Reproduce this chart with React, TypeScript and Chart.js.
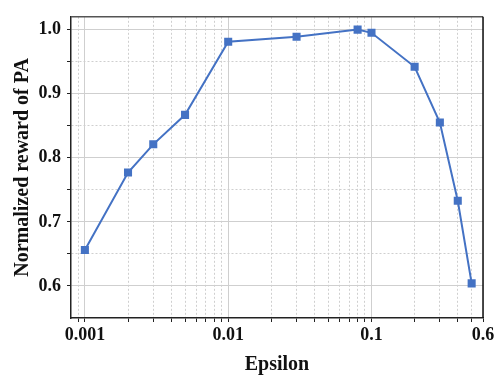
import React, { useEffect, useRef } from "react";
import { Chart, registerables } from "chart.js";

Chart.register(...registerables);

const epsilons = [0.001, 0.002, 0.003, 0.005, 0.01, 0.03, 0.08, 0.1, 0.2, 0.3, 0.4, 0.5];
const rewards = [0.656, 0.777, 0.821, 0.867, 0.981, 0.989, 1.0, 0.995, 0.942, 0.855, 0.733, 0.604];

const xMajorTicks = [0.001, 0.01, 0.1, 0.6];
const xMinorTicks = [0.0009, 0.002, 0.003, 0.004, 0.005, 0.006, 0.007, 0.008, 0.009, 0.02, 0.03, 0.04, 0.05, 0.06, 0.07, 0.08, 0.09, 0.2, 0.3, 0.4, 0.5];
const xTickLabels = ["0.001", "0.01", "0.1", "0.6"];

const yMajorTicks = [0.6, 0.7, 0.8, 0.9, 1.0];
const yMinorTicks = [0.65, 0.75, 0.85, 0.95];
const yTickLabels = ["0.6", "0.7", "0.8", "0.9", "1.0"];

const FONT = "'Liberation Serif', 'Times New Roman', serif";
const GRID = "#cfcfcf";

function majorIndex(list: number[], v: number) {
  return list.findIndex((m) => Math.abs(m - v) / m < 1e-6);
}

const framePlugin = {
  id: "frame",
  afterDraw(chart: any) {
    const { ctx, chartArea: a } = chart;
    ctx.save();
    ctx.lineWidth = 1.5;
    ctx.strokeStyle = "#555";
    ctx.beginPath();
    ctx.moveTo(a.left, a.top);
    ctx.lineTo(a.right, a.top);
    ctx.stroke();
    ctx.strokeStyle = "#111";
    ctx.beginPath();
    ctx.moveTo(a.right, a.top);
    ctx.lineTo(a.right, a.bottom);
    ctx.stroke();
    ctx.restore();
  },
};

export default function App() {
  const ref = useRef<HTMLCanvasElement | null>(null);
  useEffect(() => {
    if (!ref.current) return;
    const chart = new Chart(ref.current, {
      type: "line",
      data: {
        datasets: [
          {
            data: epsilons.map((x, i) => ({ x, y: rewards[i] })),
            borderColor: "#4472C4",
            backgroundColor: "#4472C4",
            borderWidth: 2,
            pointStyle: "rect",
            pointRadius: 5.7,
            pointHoverRadius: 5.7,
            pointBorderWidth: 0,
            tension: 0,
          },
        ],
      },
      options: {
        responsive: false,
        animation: false,
        events: [],
        layout: { padding: { left: 0, top: 14, right: 19, bottom: 0 } },
        plugins: { legend: { display: false }, tooltip: { enabled: false } },
        scales: {
          x: {
            type: "logarithmic",
            min: 0.0008,
            max: 0.6,
            afterBuildTicks: (scale: any) => {
              scale.ticks = [...xMajorTicks, ...xMinorTicks].sort((a, b) => a - b).map((v) => ({ value: v }));
            },
            afterFit: (scale: any) => {
              scale.height = 59;
            },
            ticks: {
              autoSkip: false,
              maxRotation: 0,
              padding: 3,
              color: "#111",
              font: { family: FONT, size: 18, weight: "bold" },
              callback: (v: any) => {
                const i = majorIndex(xMajorTicks, Number(v));
                return i >= 0 ? xTickLabels[i] : "";
              },
            },
            grid: {
              color: GRID,
              lineWidth: 1,
              tickLength: 4,
              tickColor: "#222",
            },
            border: {
              color: "#222",
              width: 1.5,
              dash: (ctx: any) => {
                if (!ctx.tick) return [];
                return majorIndex(xMajorTicks, ctx.tick.value) >= 0 ? [] : [2, 2];
              },
            },
            title: {
              display: true,
              text: "Epsilon",
              color: "#111",
              font: { family: FONT, size: 20, weight: "bold", lineHeight: 1.2 },
              padding: { top: 0, bottom: 0 },
            },
          },
          y: {
            type: "linear",
            min: 0.55,
            max: 1.02,
            afterBuildTicks: (scale: any) => {
              scale.ticks = [...yMajorTicks, ...yMinorTicks].sort((a, b) => a - b).map((v) => ({ value: v }));
            },
            afterFit: (scale: any) => {
              scale.width = 71;
            },
            ticks: {
              autoSkip: false,
              padding: 6,
              color: "#111",
              font: { family: FONT, size: 18, weight: "bold" },
              callback: (v: any) => {
                const i = majorIndex(yMajorTicks, Number(v));
                return i >= 0 ? yTickLabels[i] : "";
              },
            },
            grid: {
              color: GRID,
              lineWidth: 1,
              tickLength: 4,
              tickColor: "#222",
            },
            border: {
              color: "#222",
              width: 1.5,
              dash: (ctx: any) => {
                if (!ctx.tick) return [];
                return majorIndex(yMajorTicks, ctx.tick.value) >= 0 ? [] : [2, 2];
              },
            },
            title: {
              display: true,
              text: "Normalized reward of PA",
              color: "#111",
              font: { family: FONT, size: 20, weight: "bold", lineHeight: 1.2 },
              padding: { top: 11, bottom: 0 },
            },
          },
        },
      },
      plugins: [framePlugin],
    } as any);
    return () => chart.destroy();
  }, []);
  return (
    <div style={{ position: "absolute", left: 0, top: 0, width: 502, height: 377, background: "#fff" }}>
      <canvas ref={ref} width={502} height={377} style={{ display: "block" }} />
    </div>
  );
}
